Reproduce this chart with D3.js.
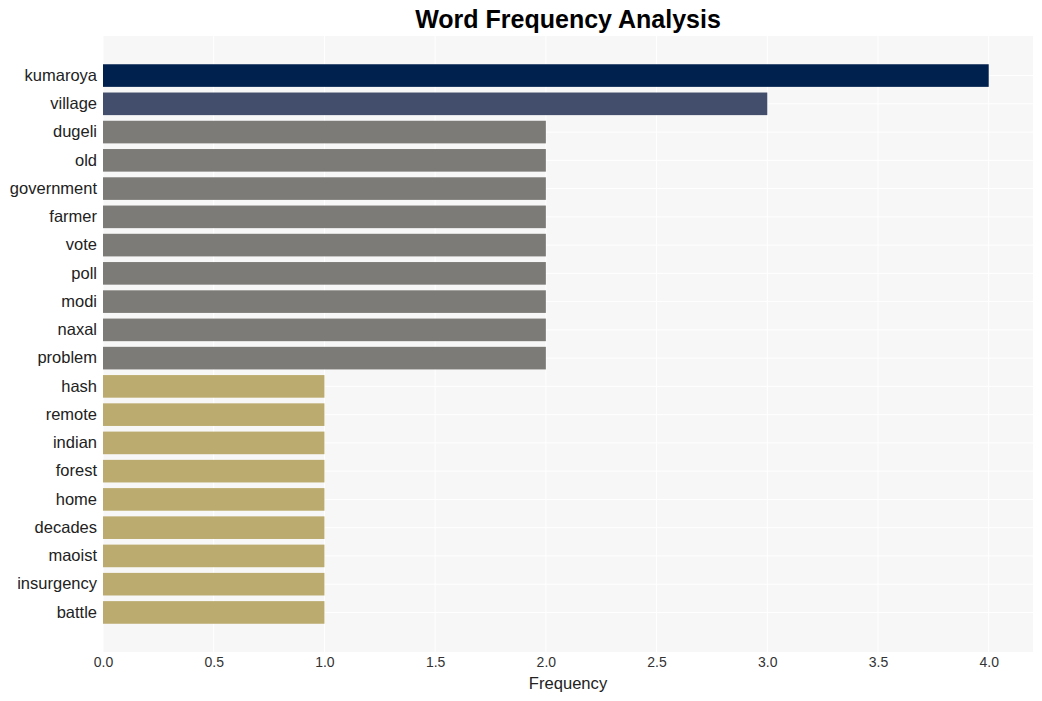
<!DOCTYPE html>
<html>
<head>
<meta charset="utf-8">
<script src="https://cdn.jsdelivr.net/npm/d3@7"></script>
<style>
  html, body { margin: 0; padding: 0; background: #ffffff; }
  svg { display: block; font-family: "Liberation Sans", Arial, Helvetica, sans-serif; }
</style>
</head>
<body>
<svg id="chart" width="1042" height="701"></svg>
<script>
const categories = ["kumaroya", "village", "dugeli", "old", "government", "farmer", "vote", "poll", "modi", "naxal", "problem", "hash", "remote", "indian", "forest", "home", "decades", "maoist", "insurgency", "battle"];
const values = [4, 3, 2, 2, 2, 2, 2, 2, 2, 2, 2, 1, 1, 1, 1, 1, 1, 1, 1, 1];
const xTicks = [0, 0.5, 1.0, 1.5, 2.0, 2.5, 3.0, 3.5, 4.0];
const colorByValue = { 4: "#00204d", 3: "#424e6c", 2: "#7d7b78", 1: "#bbab6e" };
const titleText = "Word Frequency Analysis";
const xLabelText = "Frequency";

const svg = d3.select("#chart");
const margin = { left: 103, right: 9, top: 36, bottom: 49 };
const W = 1042, H = 701;
const plotW = W - margin.left - margin.right;
const plotH = H - margin.top - margin.bottom;

const x = d3.scaleLinear().domain([0, 4.2]).range([margin.left, margin.left + plotW]);
const y = d3.scaleBand().domain(categories).range([margin.top, margin.top + plotH])
  .paddingInner(0.2).paddingOuter(1.0);

// background
svg.append("rect").attr("x", margin.left).attr("y", margin.top)
  .attr("width", plotW).attr("height", plotH).attr("fill", "#f7f7f7");

// vertical gridlines
svg.append("g").selectAll("line").data(xTicks).join("line")
  .attr("x1", d => x(d)).attr("x2", d => x(d))
  .attr("y1", margin.top).attr("y2", margin.top + plotH)
  .attr("stroke", "#ffffff").attr("stroke-width", 1);

// horizontal gridlines at category centers
svg.append("g").selectAll("line").data(categories).join("line")
  .attr("x1", margin.left).attr("x2", margin.left + plotW)
  .attr("y1", d => y(d) + y.bandwidth() / 2).attr("y2", d => y(d) + y.bandwidth() / 2)
  .attr("stroke", "#ffffff").attr("stroke-width", 1);

// bars
svg.append("g").selectAll("rect").data(categories).join("rect")
  .attr("x", x(0))
  .attr("y", d => y(d))
  .attr("width", (d, i) => x(values[i]) - x(0))
  .attr("height", y.bandwidth())
  .attr("fill", (d, i) => colorByValue[values[i]]);

// x axis
const xAxis = svg.append("g")
  .attr("transform", `translate(0,${margin.top + plotH})`)
  .call(d3.axisBottom(x).tickValues(xTicks).tickFormat(d3.format(".1f")).tickSize(0).tickPadding(5));
xAxis.select(".domain").remove();
xAxis.selectAll("text").attr("font-size", 14).attr("fill", "#333333")
  .attr("font-family", "'Liberation Sans', Arial, sans-serif");

// y axis
const yAxis = svg.append("g")
  .attr("transform", `translate(${margin.left},0)`)
  .call(d3.axisLeft(y).tickSize(0).tickPadding(6));
yAxis.select(".domain").remove();
yAxis.selectAll("text").attr("font-size", 16.5).attr("fill", "#222222")
  .attr("font-family", "'Liberation Sans', Arial, sans-serif");

// title
svg.append("text").attr("x", margin.left + plotW / 2).attr("y", 28)
  .attr("text-anchor", "middle").attr("font-size", 25).attr("font-weight", "bold")
  .attr("fill", "#000000").text(titleText);

// x label
svg.append("text").attr("x", margin.left + plotW / 2).attr("y", 689)
  .attr("text-anchor", "middle").attr("font-size", 16.6).attr("fill", "#222222")
  .text(xLabelText);
</script>
</body>
</html>
